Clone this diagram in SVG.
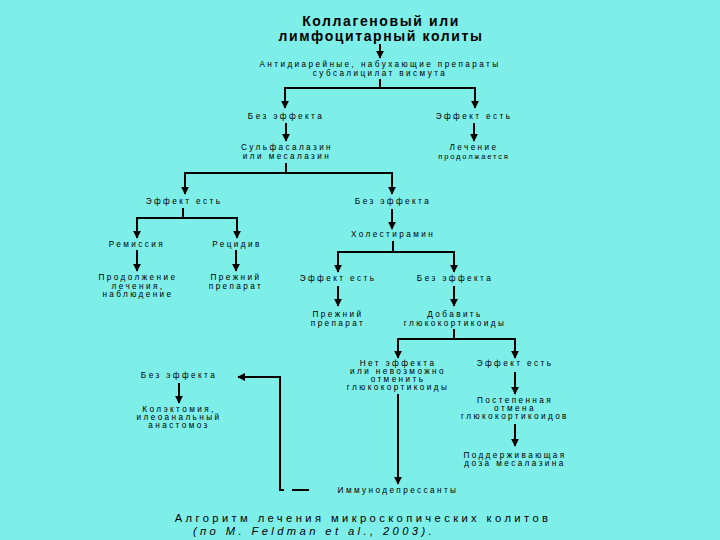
<svg xmlns="http://www.w3.org/2000/svg" width="720" height="540" viewBox="0 0 720 540">
<style>
.bg{fill:#7eeee9}
text{font-family:"Liberation Sans",Arial,sans-serif;fill:#000;text-anchor:middle}
.n{font-size:8.2px;letter-spacing:2.4px}
.s{font-size:7.6px;letter-spacing:1.8px}
.t{font-size:14px;font-weight:bold;letter-spacing:1.6px}
.c{font-size:11.2px;letter-spacing:3.4px}
.ci{font-size:11.2px;font-style:italic;letter-spacing:3.4px}
.e line,.e path{stroke:#000;stroke-width:2;fill:none}
.a{marker-end:url(#ah)}
</style>
<defs>
<marker id="ah" viewBox="0 0 10 10" refX="9" refY="5" markerUnits="userSpaceOnUse" markerWidth="8" markerHeight="9" orient="auto">
<path d="M0,0 L10,5 L0,10 z" fill="#000"/>
</marker>
</defs>
<rect class="bg" x="0" y="0" width="720" height="540"/>
<g id="connectors" class="e">
<line class="a" x1="380" y1="44" x2="380" y2="58"/>
<line x1="380" y1="79" x2="380" y2="88"/>
<line x1="284" y1="88" x2="476" y2="88"/>
<line class="a" x1="285" y1="88" x2="285" y2="108"/>
<line class="a" x1="475" y1="88" x2="475" y2="108"/>
<line class="a" x1="286" y1="123" x2="286" y2="141"/>
<line class="a" x1="474" y1="123" x2="474" y2="141"/>
<line x1="286" y1="163" x2="286" y2="173"/>
<line x1="184" y1="173" x2="393" y2="173"/>
<line class="a" x1="185" y1="173" x2="185" y2="194"/>
<line class="a" x1="392" y1="173" x2="392" y2="194"/>
<line x1="183" y1="208" x2="183" y2="218"/>
<line x1="136" y1="218" x2="238" y2="218"/>
<line class="a" x1="137" y1="218" x2="137" y2="238"/>
<line class="a" x1="237" y1="218" x2="237" y2="238"/>
<line class="a" x1="137" y1="250" x2="137" y2="271"/>
<line class="a" x1="236" y1="250" x2="236" y2="271"/>
<line class="a" x1="392" y1="209" x2="392" y2="229"/>
<line x1="393" y1="241" x2="393" y2="252"/>
<line x1="337" y1="252" x2="455" y2="252"/>
<line class="a" x1="338" y1="252" x2="338" y2="272"/>
<line class="a" x1="454" y1="252" x2="454" y2="272"/>
<line class="a" x1="338" y1="286" x2="338" y2="306"/>
<line class="a" x1="454" y1="286" x2="454" y2="306"/>
<line x1="454" y1="329" x2="454" y2="339"/>
<line x1="397" y1="339" x2="516" y2="339"/>
<line class="a" x1="398" y1="339" x2="398" y2="358"/>
<line class="a" x1="515" y1="339" x2="515" y2="358"/>
<line class="a" x1="515" y1="372" x2="515" y2="394"/>
<line class="a" x1="515" y1="424" x2="515" y2="446"/>
<line class="a" x1="398" y1="394" x2="398" y2="484"/>
<line x1="292" y1="490" x2="309" y2="490"/>
<path class="a" d="M284,490 H280 V377 H238"/>
<line class="a" x1="179" y1="383" x2="179" y2="403"/>
</g>
<g id="n-title"><text class="t" x="381" y="26">Коллагеновый или</text><text class="t" x="381" y="41">лимфоцитарный колиты</text></g>
<g id="n-antidiar"><text class="n" x="380" y="67">Антидиарейные, набухающие препараты</text><text class="n" x="380" y="75.5">субсалицилат висмута</text></g>
<g id="n-noeff1"><text class="n" x="286" y="119">Без эффекта</text></g>
<g id="n-eff1"><text class="n" x="474" y="119">Эффект есть</text></g>
<g id="n-sulfa"><text class="n" x="287" y="150">Сульфасалазин</text><text class="n" x="287" y="158.5">или месалазин</text></g>
<g id="n-cont"><text class="n" x="474" y="150">Лечение</text><text class="s" x="474" y="158.5">продолжается</text></g>
<g id="n-eff2"><text class="n" x="184" y="204">Эффект есть</text></g>
<g id="n-noeff2"><text class="n" x="393" y="204">Без эффекта</text></g>
<g id="n-remis"><text class="n" x="137" y="247">Ремиссия</text></g>
<g id="n-recid"><text class="n" x="237" y="247">Рецидив</text></g>
<g id="n-contobs"><text class="n" x="138" y="280">Продолжение</text><text class="n" x="138" y="288.5">лечения,</text><text class="n" x="138" y="297">наблюдение</text></g>
<g id="n-prev1"><text class="n" x="236" y="280">Прежний</text><text class="n" x="236" y="288.5">препарат</text></g>
<g id="n-chol"><text class="n" x="393" y="237">Холестирамин</text></g>
<g id="n-eff3"><text class="n" x="338" y="281">Эффект есть</text></g>
<g id="n-noeff3"><text class="n" x="455" y="281">Без эффекта</text></g>
<g id="n-prev2"><text class="n" x="338" y="317">Прежний</text><text class="n" x="338" y="325.5">препарат</text></g>
<g id="n-gcs"><text class="n" x="455" y="317">Добавить</text><text class="n" x="455" y="325.5">глюкокортикоиды</text></g>
<g id="n-noeff4"><text class="n" x="398" y="366">Нет эффекта</text><text class="n" x="398" y="374">или невозможно</text><text class="n" x="398" y="382">отменить</text><text class="n" x="398" y="390">глюкокортикоиды</text></g>
<g id="n-eff4"><text class="n" x="515" y="366">Эффект есть</text></g>
<g id="n-taper"><text class="n" x="515" y="403">Постепенная</text><text class="n" x="515" y="411">отмена</text><text class="n" x="515" y="419">глюкокортикоидов</text></g>
<g id="n-maint"><text class="n" x="515" y="458">Поддерживающая</text><text class="n" x="515" y="466">доза месалазина</text></g>
<g id="n-immuno"><text class="n" x="398" y="493">Иммунодепрессанты</text></g>
<g id="n-noeff5"><text class="n" x="179" y="378">Без эффекта</text></g>
<g id="n-colect"><text class="n" x="179" y="412">Колэктомия,</text><text class="n" x="179" y="420">илеоанальный</text><text class="n" x="179" y="428">анастомоз</text></g>
<g id="caption"><text class="c" x="363" y="522">Алгоритм лечения микроскопических колитов</text><text class="ci" x="314" y="535">(по M. Feldman et al., 2003).</text></g>
</svg>
